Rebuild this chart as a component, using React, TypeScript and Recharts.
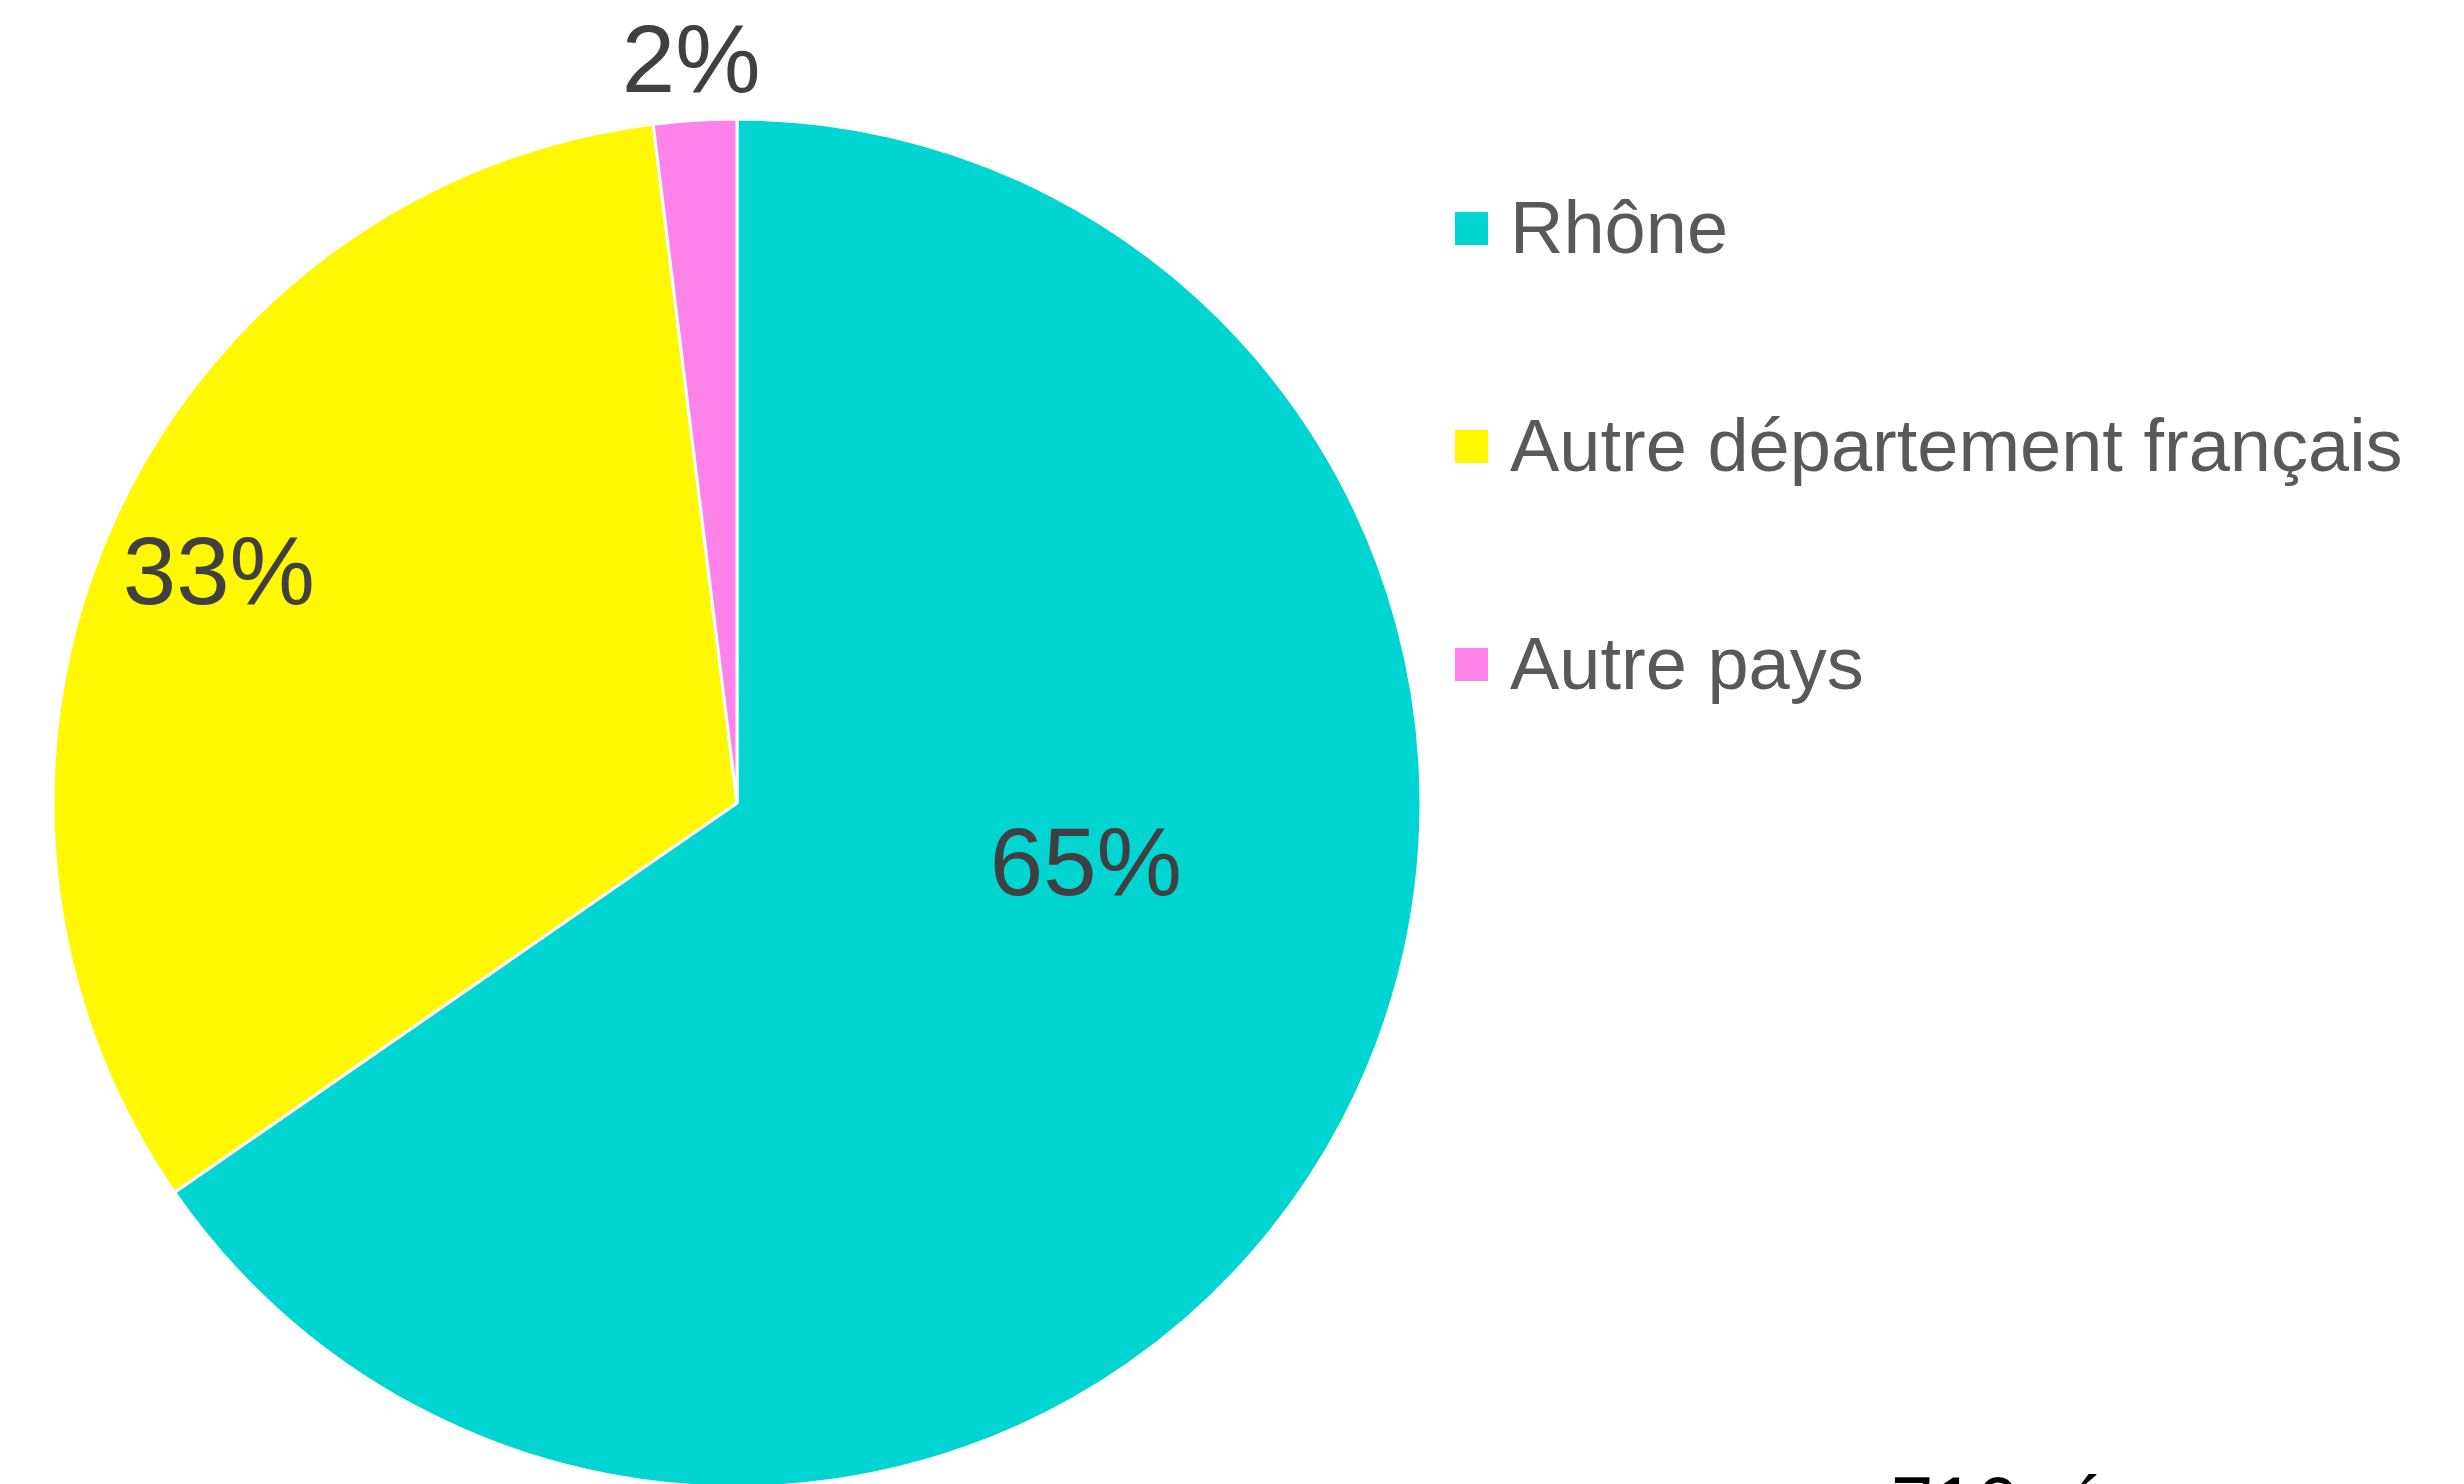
import { PieChart, Pie, Cell, Legend } from 'recharts'

// Origine des répondants (716 réponses)
const categories = ['Rhône', 'Autre département français', 'Autre pays']
const counts = [468, 234, 14]
const colors = ['#00D5D2', '#FFF800', '#FF82EA']

// label placement: fraction of the radius + shift from the slice mid angle (best fit)
const labelRadius = [0.517, 0.83, 1.09]
const labelAngleShift = [18.2, 0, 0]

const FONT = '"Liberation Sans", Arial, sans-serif'
const RADIAN = Math.PI / 180

const chartData = categories.map((name, i) => ({ name, value: counts[i] }))

function renderLabel(props: any) {
  const { cx, cy, midAngle, outerRadius, percent, index } = props
  const r = outerRadius * labelRadius[index]
  const a = (midAngle + labelAngleShift[index]) * RADIAN
  const x = cx + r * Math.cos(-a)
  const y = cy + r * Math.sin(-a)
  return (
    <text
      x={x}
      y={y}
      fill="#404040"
      fontSize={96}
      fontFamily={FONT}
      textAnchor="middle"
      dominantBaseline="central"
    >
      {`${Math.round(percent * 100)}%`}
    </text>
  )
}

// legend keeps the series order (no sorting)
function LegendContent() {
  return (
    <div style={{ display: 'flex', flexDirection: 'column' }}>
      {categories.map((name, i) => (
        <div key={name} style={{ height: 218, display: 'flex', alignItems: 'center' }}>
          <span
            style={{
              width: 33,
              height: 33,
              background: colors[i],
              display: 'inline-block',
              marginRight: 22,
            }}
          />
          <span
            style={{
              fontFamily: FONT,
              fontSize: 74,
              lineHeight: 1,
              color: '#595959',
              whiteSpace: 'nowrap',
            }}
          >
            {name}
          </span>
        </div>
      ))}
    </div>
  )
}

export default function App() {
  return (
    <div
      style={{
        position: 'relative',
        width: 2464,
        height: 1484,
        overflow: 'hidden',
        background: '#fff',
      }}
    >
      <style>{'body{margin:0;overflow:hidden}'}</style>
      <PieChart width={2464} height={1484} margin={{ top: 0, right: 0, bottom: 0, left: 0 }}>
        <Pie
          data={chartData}
          dataKey="value"
          nameKey="name"
          cx={737}
          cy={803}
          outerRadius={684}
          startAngle={90}
          endAngle={-270}
          stroke="#ffffff"
          strokeWidth={3}
          label={renderLabel}
          labelLine={false}
          isAnimationActive={false}
        >
          {chartData.map((d, i) => (
            <Cell key={d.name} fill={colors[i]} />
          ))}
        </Pie>
        <Legend
          layout="vertical"
          align="right"
          verticalAlign="top"
          content={<LegendContent />}
          wrapperStyle={{ left: 1455, top: 119, width: 1000 }}
        />
      </PieChart>
      <div
        style={{
          position: 'absolute',
          left: 1891,
          top: 1466,
          fontFamily: FONT,
          fontSize: 76,
          lineHeight: 1,
          color: '#000',
          whiteSpace: 'nowrap',
        }}
      >
        716 réponses
      </div>
    </div>
  )
}
